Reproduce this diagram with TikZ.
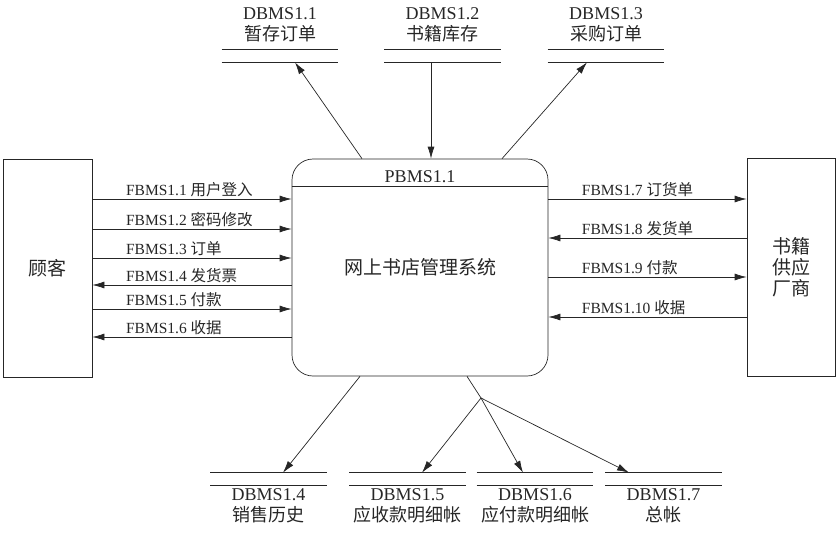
\documentclass[tikz,border=0pt]{standalone}
\usepackage{fontspec}
\setmainfont{Liberation Serif}
\newfontfamily\cjk{Noto Sans CJK SC}
\usetikzlibrary{arrows.meta,positioning}

\begin{document}
\begin{tikzpicture}[x=1pt,y=-1pt,line width=0.7pt,color=black!85,
  >={Latex[length=12pt,width=7pt]},
  fw/.style={->},bw/.style={<-},
  ent/.style={draw,minimum width=89,minimum height=218,inner sep=0pt,align=center,
    font=\fontsize{19}{21}\selectfont\cjk},
  flow/.style={anchor=south west,inner sep=1.5pt,font=\fontsize{15.5}{17}\selectfont},
  store/.style={minimum width=116,minimum height=12,inner sep=0pt},
  stxt/.style={align=center,inner sep=0pt,font=\fontsize{18}{21}\selectfont}]
  \useasboundingbox (0,0) rectangle (840,536);
  % ---------- entities and process
  \node[ent] (cust) at (47.5,268) {顾客};
  \node[ent,minimum width=88] (sup) at (791,267.5) {书籍\\供应\\厂商};
  \node[draw,rounded corners=21pt,minimum width=256,minimum height=217] (proc) at (420,267.5) {};
  \draw ([yshift=-28pt]proc.north west) -- ([yshift=-28pt]proc.north east);
  \node[font=\fontsize{18}{20}\selectfont] (pid) at ([yshift=-18.5pt]proc.north) {PBMS1.1};
  \node[font=\fontsize{19}{21}\selectfont\cjk] (pname) at (proc.center) {网上书店管理系统};
  % ---------- flows to the customer
  \foreach \y/\dir/\txt [count=\i] in {199/fw/用户登入,229/fw/密码修改,258/fw/订单,285/bw/发货票,309/fw/付款,337/bw/收据}
    \draw[\dir] (cust.east |- 0,\y) -- node[flow,pos=0.16] {FBMS1.\i\ {\cjk\txt}} (proc.west |- 0,\y);
  % ---------- flows to the supplier
  \foreach \y/\dir/\txt [count=\i from 7] in {199/fw/订货单,238/bw/发货单,277/fw/付款,317/bw/收据}
    \draw[\dir] (proc.east |- 0,\y) -- node[flow,pos=0.16] {FBMS1.\i\ {\cjk\txt}} (sup.west |- 0,\y);
  % ---------- data stores
  \foreach \n/\x/\y in {s1/280/56,s2/442.5/56,s3/606/56,s4/268.5/479,s5/407.5/479,s6/535/479,s7/663.5/479} {
    \node[store] (\n) at (\x,\y) {};
    \draw (\n.north west) -- (\n.north east) (\n.south west) -- (\n.south east);
  }
  \foreach \n/\t [count=\i] in {s1/暂存订单,s2/书籍库存,s3/采购订单}
    \node[stxt,above=7pt of \n] (l\n) {DBMS1.\i\\{\cjk\t}};
  \foreach \n/\t [count=\i from 4] in {s4/销售历史,s5/应收款明细帐,s6/应付款明细帐,s7/总帐}
    \node[stxt,below=3pt of \n] (l\n) {DBMS1.\i\\{\cjk\t}};
  % ---------- store access
  \draw[->] ([xshift=-58pt]proc.north) -- ([xshift=15pt]s1.south);
  \draw[->] ([xshift=-11.5pt]s2.south) -- ([xshift=11pt]proc.north);
  \draw[->] ([xshift=82pt]proc.north) -- ([xshift=-19pt]s3.south);
  \draw[->] ([xshift=-60pt]proc.south) -- ([xshift=14.5pt]s4.north);
  \coordinate (jn) at (481,398);
  \draw ([xshift=47pt]proc.south) -- (jn);
  \foreach \n/\dx in {s5/14.5,s6/-12,s7/-34.5}
    \draw[->] (jn) -- ([xshift=\dx pt]\n.north);
\end{tikzpicture}
\end{document}
